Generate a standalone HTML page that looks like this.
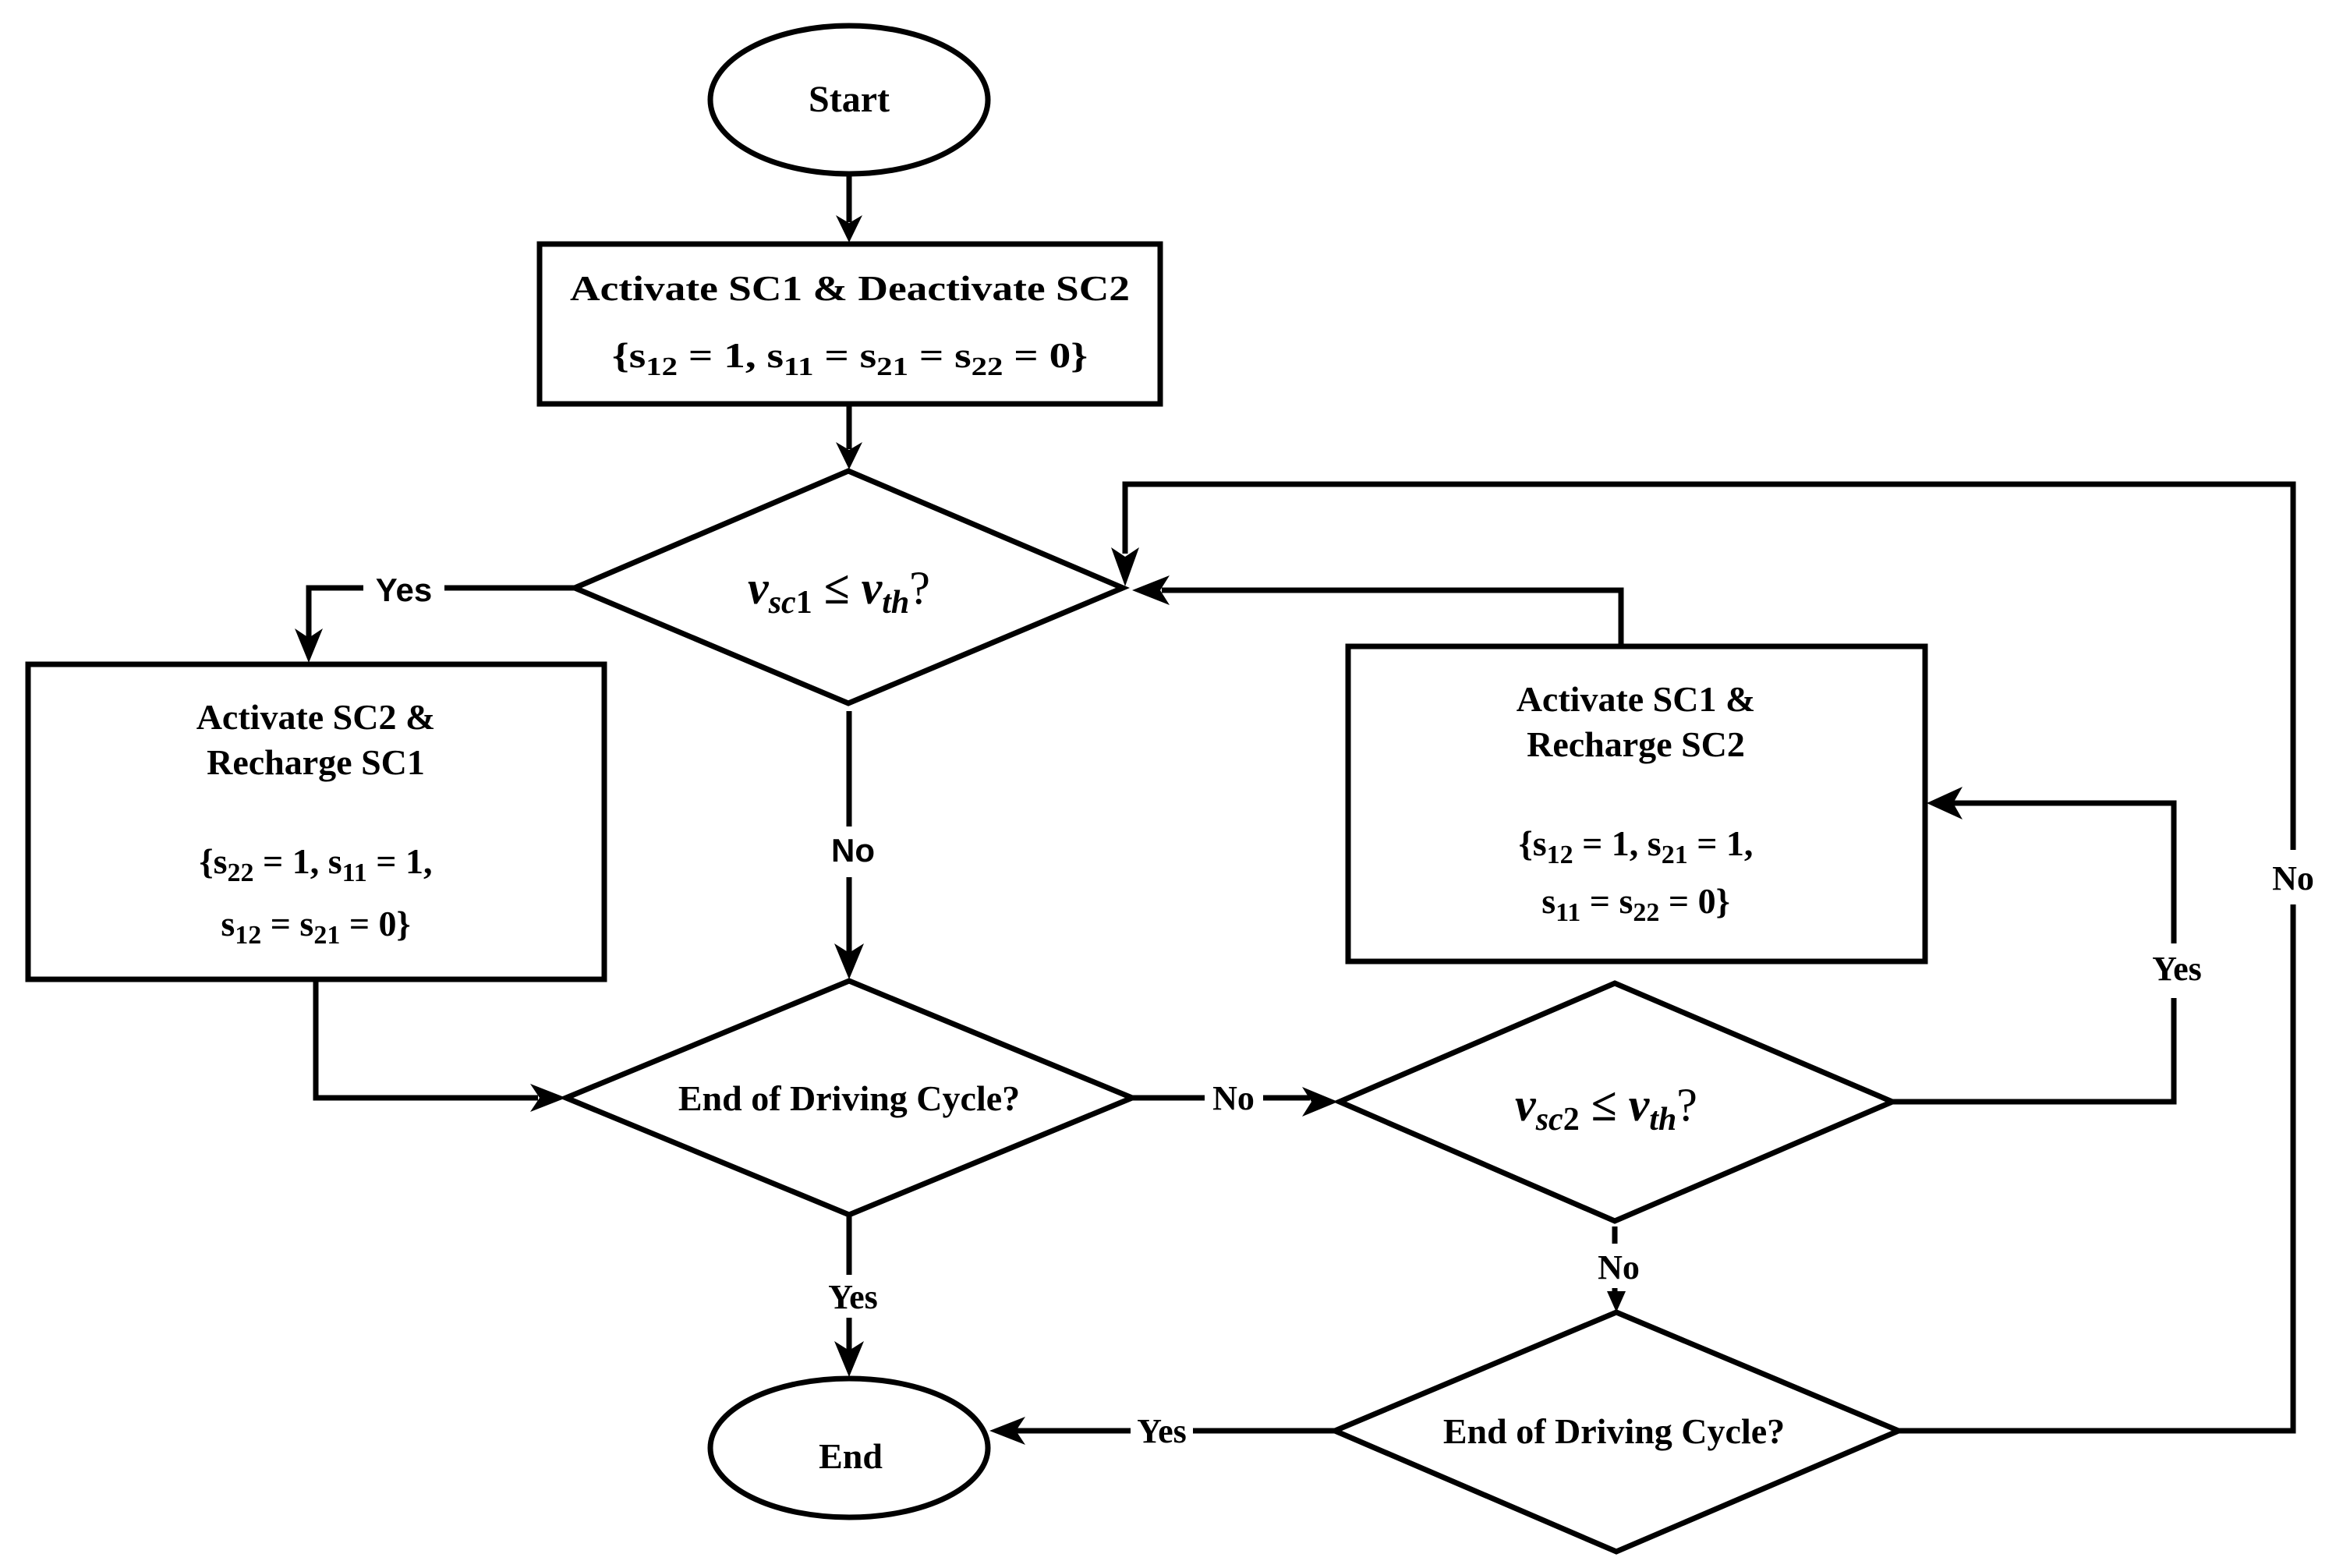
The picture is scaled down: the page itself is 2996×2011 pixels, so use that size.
<!DOCTYPE html>
<html><head><meta charset="utf-8"><style>
html,body{margin:0;padding:0;background:#fff}
svg{display:block}
text{font-family:"Liberation Serif",serif;font-weight:bold;fill:#000}
.s{font-family:"Liberation Sans",sans-serif}
</style></head><body>
<svg width="2996" height="2011" viewBox="0 0 2996 2011" xmlns="http://www.w3.org/2000/svg">
<g fill="none" stroke="#000" stroke-width="7">
<ellipse cx="1089" cy="128" rx="178" ry="95"/>
<rect x="692" y="313" width="796" height="205"/>
<polygon points="1088,604 1440,754 1088,902 737,754"/>
<rect x="36" y="852" width="739" height="404"/>
<rect x="1729" y="829" width="740" height="404"/>
<polygon points="1089,1258 1452,1408 1089,1558 726,1408"/>
<polygon points="2071,1261 2427,1413 2071,1566 1718,1413"/>
<polygon points="2073,1683 2435,1835 2073,1990 1712,1835"/>
<ellipse cx="1089" cy="1857" rx="178" ry="89"/>
<line x1="1089" y1="223" x2="1089" y2="285"/>
<line x1="1089" y1="518" x2="1089" y2="576"/>
<polyline points="737,754 570,754"/>
<polyline points="466,754 396,754 396,820"/>
<line x1="1089" y1="912" x2="1089" y2="1060"/>
<line x1="1089" y1="1125" x2="1089" y2="1222"/>
<polyline points="405,1256 405,1408 690,1408"/>
<line x1="1452" y1="1408" x2="1545" y2="1408"/>
<line x1="1620" y1="1408" x2="1680" y2="1408"/>
<polyline points="2427,1413 2788,1413 2788,1280"/>
<polyline points="2788,1210 2788,1030 2505,1030"/>
<line x1="2071" y1="1573" x2="2071" y2="1595"/>
<line x1="2071" y1="1652" x2="2071" y2="1668"/>
<polyline points="2435,1835 2941,1835 2941,1160"/>
<polyline points="2941,1090 2941,621 1443,621 1443,710"/>
<polyline points="2079,829 2079,757 1490,757"/>
<line x1="1089" y1="1558" x2="1089" y2="1635"/>
<line x1="1089" y1="1690" x2="1089" y2="1735"/>
<line x1="1712" y1="1835" x2="1530" y2="1835"/>
<line x1="1450" y1="1835" x2="1300" y2="1835"/>
</g>
<g fill="#000">
<polygon points="1089,311 1072,276 1089,286 1106,276"/>
<polygon points="1089,602 1072,567 1089,577 1106,567"/>
<polygon points="396,850 378,806 396,818 414,806"/>
<polygon points="1089,1256 1070,1210 1089,1222 1108,1210"/>
<polygon points="726,1408 680,1390 692,1408 680,1426"/>
<polygon points="1716,1413 1670,1394 1682,1413 1670,1432"/>
<polygon points="2471,1030 2517,1009 2505,1030 2517,1051"/>
<polygon points="1443,752 1425,702 1443,714 1461,702"/>
<polygon points="1452,757 1500,738 1488,757 1500,776"/>
<polygon points="2073,1683 2061,1656 2085,1656"/>
<polygon points="1089,1766 1070,1720 1089,1732 1108,1720"/>
<polygon points="1269,1835 1315,1817 1303,1835 1315,1853"/>
</g>
<g text-anchor="middle" font-size="46">
<text x="1089" y="143" font-size="48">Start</text>
<text x="1090" y="385" textLength="718" lengthAdjust="spacingAndGlyphs">Activate SC1 &amp; Deactivate SC2</text>
<text x="1090" y="471" textLength="610" lengthAdjust="spacingAndGlyphs">{s<tspan font-size="34" dy="10">12</tspan><tspan dy="-10"> = 1,  s</tspan><tspan font-size="34" dy="10">11</tspan><tspan dy="-10"> = s</tspan><tspan font-size="34" dy="10">21</tspan><tspan dy="-10"> = s</tspan><tspan font-size="34" dy="10">22</tspan><tspan dy="-10"> = 0}</tspan></text>
<text x="1076" y="774" font-size="60"><tspan font-style="italic">v</tspan><tspan font-style="italic" font-size="42" dy="12">sc</tspan><tspan font-size="42">1</tspan><tspan dy="-12"> ≤ </tspan><tspan font-style="italic">v</tspan><tspan font-style="italic" font-size="42" dy="12">th</tspan><tspan dy="-12" font-weight="normal">?</tspan></text>
<text x="405" y="935">Activate SC2 &amp;</text>
<text x="405" y="993">Recharge SC1</text>
<text x="405" y="1120">{s<tspan font-size="34" dy="10">22</tspan><tspan dy="-10"> = 1, s</tspan><tspan font-size="34" dy="10">11</tspan><tspan dy="-10"> = 1,</tspan></text>
<text x="405" y="1200">s<tspan font-size="34" dy="10">12</tspan><tspan dy="-10"> = s</tspan><tspan font-size="34" dy="10">21</tspan><tspan dy="-10"> = 0}</tspan></text>
<text x="2098" y="912">Activate SC1 &amp;</text>
<text x="2098" y="970">Recharge SC2</text>
<text x="2098" y="1097">{s<tspan font-size="34" dy="10">12</tspan><tspan dy="-10"> = 1, s</tspan><tspan font-size="34" dy="10">21</tspan><tspan dy="-10"> = 1,</tspan></text>
<text x="2098" y="1171">s<tspan font-size="34" dy="10">11</tspan><tspan dy="-10"> = s</tspan><tspan font-size="34" dy="10">22</tspan><tspan dy="-10"> = 0}</tspan></text>
<text x="1089" y="1424">End of Driving Cycle?</text>
<text x="2070" y="1851">End of Driving Cycle?</text>
<text x="2060" y="1437" font-size="60"><tspan font-style="italic">v</tspan><tspan font-style="italic" font-size="42" dy="12">sc</tspan><tspan font-size="42">2</tspan><tspan dy="-12"> ≤ </tspan><tspan font-style="italic">v</tspan><tspan font-style="italic" font-size="42" dy="12">th</tspan><tspan dy="-12" font-weight="normal">?</tspan></text>
<text x="1091" y="1883">End</text>
<text class="s" x="518" y="771" font-size="42">Yes</text>
<text class="s" x="1094" y="1105" font-size="42">No</text>
<text x="1582" y="1423" font-size="44">No</text>
<text x="1094" y="1678" font-size="44">Yes</text>
<text x="2076" y="1640" font-size="44">No</text>
<text x="1490" y="1850" font-size="44">Yes</text>
<text x="2792" y="1257" font-size="44">Yes</text>
<text x="2941" y="1141" font-size="44">No</text>
</g>
</svg>
</body></html>
